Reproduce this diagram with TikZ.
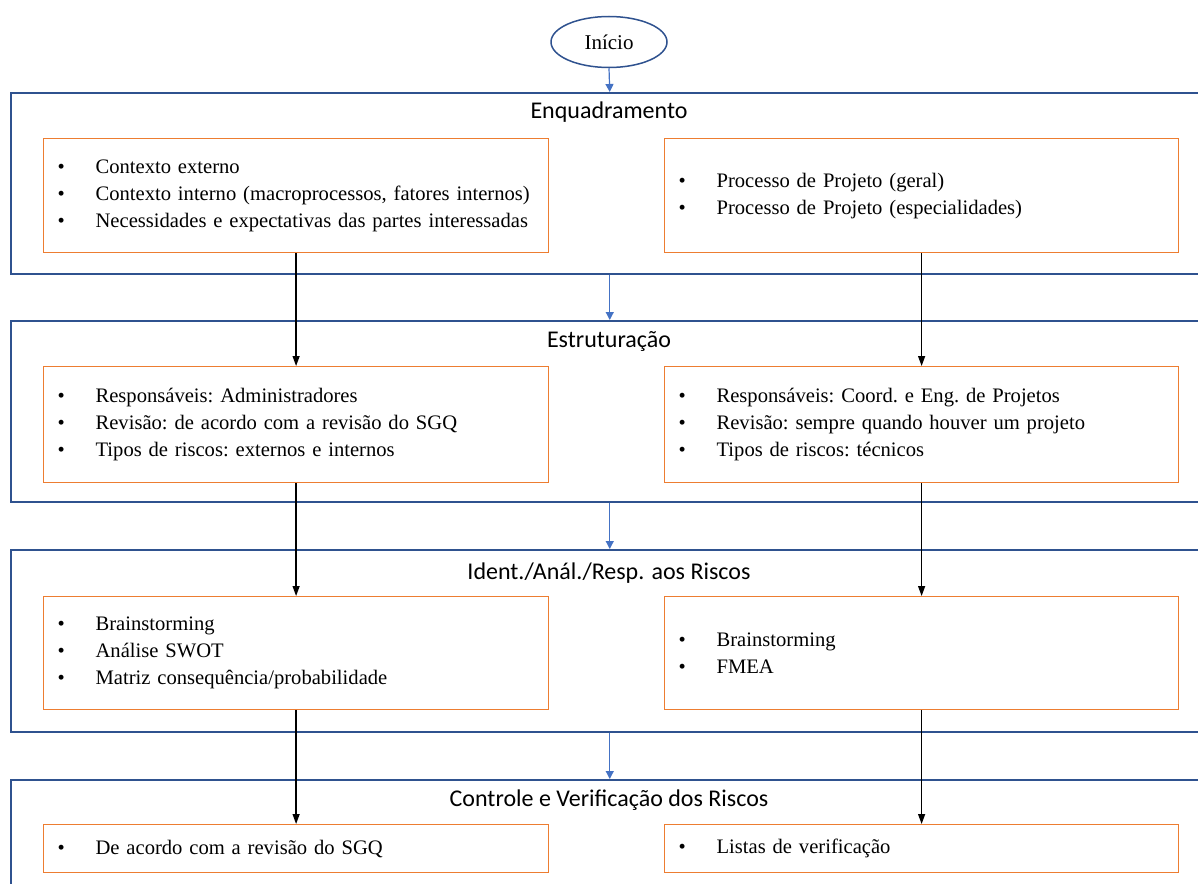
\documentclass[tikz,border=0pt]{standalone}
\usepackage{fontspec}
\setmainfont{Liberation Serif}
\newfontfamily\titlefont{Carlito}
\usetikzlibrary{shapes.geometric,arrows.meta}
\definecolor{panelblue}{HTML}{2F528F}
\definecolor{boxorange}{HTML}{ED7D31}
\definecolor{arrowblue}{HTML}{4472C4}
\tikzset{
  panel/.style={draw=panelblue, line width=1.5pt, rectangle, anchor=north west, minimum width=1198pt, inner sep=0pt},
  obox/.style={draw=boxorange, line width=1.2pt, rectangle, anchor=north west, inner xsep=14pt, inner ysep=0pt, align=left, font=\fontsize{20.6}{27}\selectfont\frenchspacing},
  lbox/.style={obox, text width=477pt},
  rbox/.style={obox, text width=486pt},
  ptitle/.style={font=\titlefont\fontsize{24}{28}\selectfont, inner sep=0pt},
  bluearrow/.style={draw=arrowblue, line width=1.2pt, -{Triangle[length=8pt,width=8pt]}},
  blackarrow/.style={draw=black, line width=1.3pt, -{Triangle[length=10pt,width=7pt]}},
  startnode/.style={ellipse, draw=panelblue, line width=1.5pt, minimum width=116pt, minimum height=51pt, inner sep=0pt, font=\fontsize{21}{25}\selectfont}
}
\newcommand{\itm}[1]{\makebox[38pt][l]{\textbullet}\mbox{#1}}
\begin{document}
\begin{tikzpicture}[x=1pt,y=-1pt]
\useasboundingbox (0,0) rectangle (1198,883);
\node[startnode] (start) at (609,42) {Início};

\node[panel, minimum height=181pt] (p1) at (10,92) {};
\node[panel, minimum height=181pt] (p2) at (10,320) {};
\node[panel, minimum height=182pt] (p3) at (10,549) {};
\node[panel, minimum height=130pt] (p4) at (10,779) {};

\node[ptitle] (t1) at (609,112) {Enquadramento};
\node[ptitle] (t2) at (609,341) {Estruturação};
\node[ptitle] (t3) at (609,573) {Ident./Anál./Resp. aos Riscos};
\node[ptitle] (t4) at (609,800) {Controle e Verificação dos Riscos};

\node[lbox, minimum height=114pt] (b1l) at (43,138) {\itm{Contexto externo}\\\itm{Contexto interno (macroprocessos, fatores internos)}\\\itm{Necessidades e expectativas das partes interessadas}};
\node[rbox, minimum height=114pt] (b1r) at (664,138) {\itm{Processo de Projeto (geral)}\\\itm{Processo de Projeto (especialidades)}};

\node[lbox, minimum height=116pt] (b2l) at (43,366) {\itm{Responsáveis: Administradores}\\\itm{Revisão: de acordo com a revisão do SGQ}\\\itm{Tipos de riscos: externos e internos}};
\node[rbox, minimum height=116pt] (b2r) at (664,366) {\itm{Responsáveis: Coord. e Eng. de Projetos}\\\itm{Revisão: sempre quando houver um projeto}\\\itm{Tipos de riscos: técnicos}};

\node[lbox, minimum height=113pt] (b3l) at (43,596) {\itm{Brainstorming}\\\itm{Análise SWOT}\\\itm{Matriz consequência/probabilidade}};
\node[rbox, minimum height=113pt] (b3r) at (664,596) {\itm{Brainstorming}\\\itm{FMEA}};

\node[lbox, minimum height=48pt] (b4l) at (43,824) {\itm{De acordo com a revisão do SGQ}};
\node[rbox, minimum height=48pt] (b4r) at (664,824) {\itm{Listas de verificação}};

\draw[bluearrow] (start.south) -- (p1.north);
\draw[bluearrow] (p1.south) -- (p2.north);
\draw[bluearrow] (p2.south) -- (p3.north);
\draw[bluearrow] (p3.south) -- (p4.north);

\draw[blackarrow] (b1l.south) -- (b2l.north);
\draw[blackarrow] (b2l.south) -- (b3l.north);
\draw[blackarrow] (b3l.south) -- (b4l.north);
\draw[blackarrow] (b1r.south) -- (b2r.north);
\draw[blackarrow] (b2r.south) -- (b3r.north);
\draw[blackarrow] (b3r.south) -- (b4r.north);
\end{tikzpicture}
\end{document}
